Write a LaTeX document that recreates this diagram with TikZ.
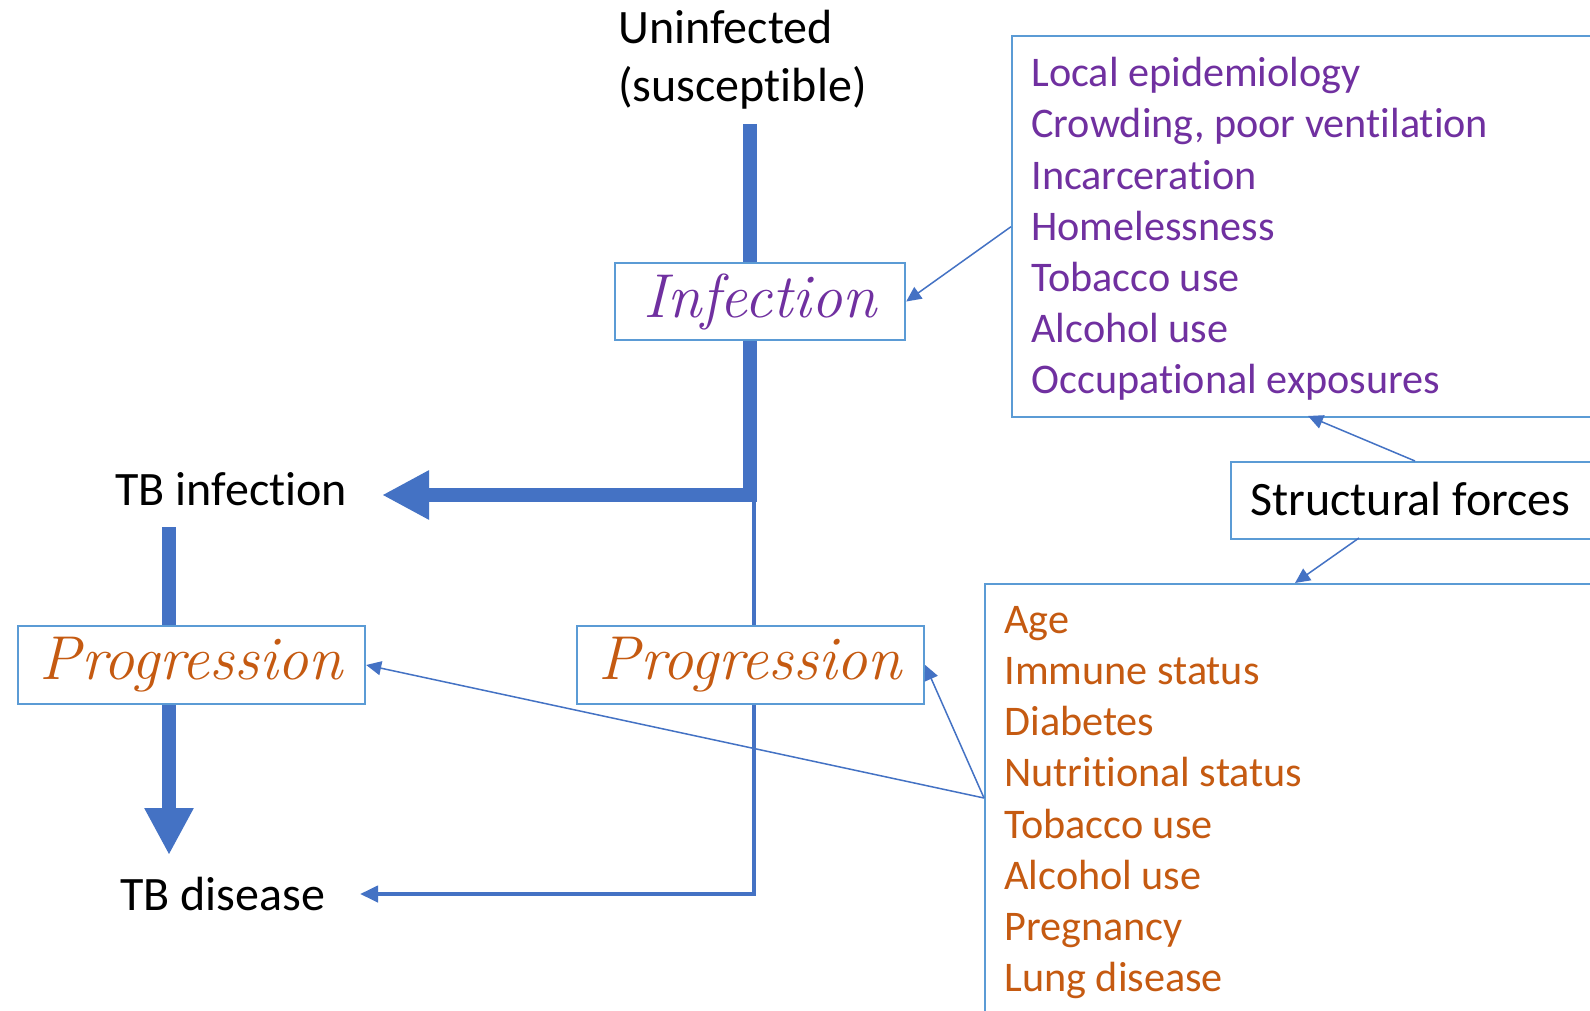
\documentclass[tikz,border=0pt]{standalone}
\usepackage{fontspec}
\newfontfamily\calib[Ligatures=NoCommon]{Carlito}
\usetikzlibrary{arrows.meta}
\definecolor{flow}{HTML}{4472C4}
\definecolor{edgeblue}{HTML}{5B9BD5}
\definecolor{purp}{HTML}{7030A0}
\definecolor{orng}{HTML}{C55A11}
\begin{document}
\begin{tikzpicture}[x=0.5pt,y=-0.5pt,
  box/.style={draw=edgeblue, line width=1.2pt, fill=white, inner sep=0pt},
  scripttext/.style={font=\fontsize{31}{36}\selectfont\itshape},
  blacktext/.style={font=\calib\fontsize{24}{28.8}\selectfont, inner sep=0pt},
  listtext/.style={font=\calib\fontsize{21.1}{25.6}\selectfont, inner sep=0pt, align=left},
  thickflow/.style={draw=flow, line width=7pt, line join=miter},
  thickarrow/.style={thickflow, -{Triangle[length=23.5pt,width=23pt]}},
  medarrow/.style={draw=flow, line width=2pt, -{Triangle[length=9pt,width=8pt]}},
  thinarrow/.style={draw=flow, line width=0.75pt, -{Triangle[length=7.5pt,width=7pt]}}
]
\useasboundingbox (0,0) rectangle (1590,1011);
\fill[white] (0,0) rectangle (1590,1011);

% text nodes
\node[blacktext, align=left, anchor=west] (unin) at (618,60) {Uninfected\\(susceptible)};
\node[blacktext, anchor=base west] (tbinf) at (115,505) {TB infection};
\node[blacktext, anchor=base west] (tbdis) at (120,910) {TB disease};

% boxes
\node[box, scripttext, text=purp, minimum width=145pt, minimum height=38.5pt] (inf) at (760,301.5) {Infection};
\node[box, scripttext, text=orng, minimum width=173.5pt, minimum height=39pt] (progL) at (191.5,665) {Progression};
\node[box, scripttext, text=orng, minimum width=173.5pt, minimum height=39pt] (progR) at (750.5,665) {Progression};
\node[box, anchor=north west, minimum width=350pt, minimum height=190.5pt] (risk) at (1011,35) {};
\node[box, anchor=north west, minimum width=200pt, minimum height=38.5pt] (sf) at (1230,461) {};
\node[blacktext, anchor=base west] (sftext) at (1250,515) {Structural forces};
\node[box, anchor=north west, minimum width=350pt, minimum height=250pt] (host) at (984,583) {};

\node[listtext, text=purp, anchor=west] (risklist) at (1031,229) {Local epidemiology\\Crowding, poor ventilation\\Incarceration\\Homelessness\\Tobacco use\\Alcohol use\\Occupational exposures};
\node[listtext, text=orng, anchor=west] (hostlist) at (1004,802.5) {Age\\Immune status\\Diabetes\\Nutritional status\\Tobacco use\\Alcohol use\\Pregnancy\\Lung disease};

% coordinates
\coordinate (t0) at (750,124);
\coordinate (tip1) at (382,495);
\coordinate (thin0) at (754,502);
\coordinate (tip2) at (360,894);
\coordinate (l0) at (169,527);
\coordinate (tip3) at (169,855);
\coordinate (sfa) at (1415,461);
\coordinate (riskb) at (1308,416);
\coordinate (sfb) at (1359,538);
\coordinate (hosta) at (1295,583);
\coordinate (h0) at (984,798);

% thick flows
\draw[thickflow] (t0) -- (t0 |- inf.north);
\draw[thickarrow] (t0 |- inf.south) |- (tip1);
\draw[thickflow] (l0) -- (l0 |- progL.north);
\draw[thickarrow] (l0 |- progL.south) -- (tip3);

% thin flow
\draw[draw=flow, line width=2pt] (thin0) -- (thin0 |- progR.north);
\draw[medarrow] (thin0 |- progR.south) |- (tip2);

% influence arrows
\draw[thinarrow] (risk.west) -- (inf.east);
\draw[thinarrow] (sfa) -- (riskb);
\draw[thinarrow] (sfb) -- (hosta);
\draw[thinarrow] (h0) -- (progL.east);
\draw[thinarrow] (h0) -- (progR.east);
\end{tikzpicture}
\end{document}
